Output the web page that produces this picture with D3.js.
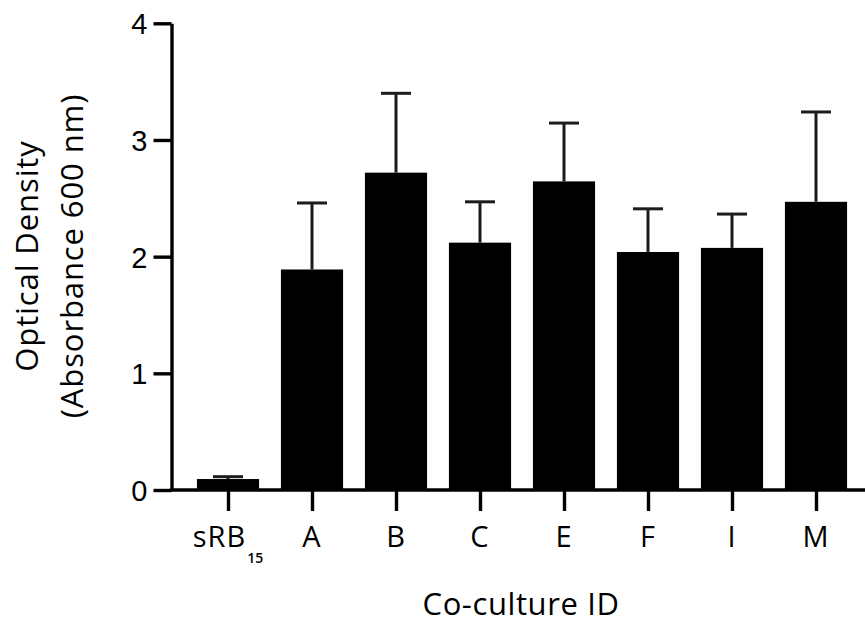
<!DOCTYPE html>
<html>
<head>
<meta charset="utf-8">
<script src="https://cdn.jsdelivr.net/npm/d3@7"></script>
<style>
  html, body { margin: 0; padding: 0; background: #fff; }
  svg { display: block; font-family: "Open Sans", "Noto Sans", sans-serif; }
</style>
</head>
<body>
<svg id="chart" width="865" height="623"></svg>
<script>
// Co-culture optical density (mean with SD error bars)
const categories = ["sRB15", "A", "B", "C", "E", "F", "I", "M"];
const meanOD = [0.094, 1.89, 2.72, 2.12, 2.645, 2.04, 2.075, 2.47];
const sdOD = [0.02, 0.57, 0.68, 0.35, 0.50, 0.37, 0.29, 0.77];
const yTicks = [0, 1, 2, 3, 4];

const svg = d3.select("#chart");
const W = 865;
const axisX = 171.5, baseY = 490, topY = 23.3;

const y = d3.scaleLinear().domain([0, 4]).range([baseY, topY]);
const x = d3.scalePoint().domain(categories).range([228, 816]);
const barW = x.step() * 0.74;
const capW = 30;

// Bars
svg.append("g").selectAll("rect")
  .data(categories)
  .join("rect")
  .attr("x", (d) => x(d) - barW / 2)
  .attr("y", (d, i) => y(meanOD[i]))
  .attr("width", barW)
  .attr("height", (d, i) => baseY - y(meanOD[i]))
  .attr("fill", "#000");

// Error bars (upper only)
const err = svg.append("g").attr("stroke", "#1c1c1c").attr("stroke-width", 3);
categories.forEach((c, i) => {
  const cx = x(c);
  const yt = y(meanOD[i] + sdOD[i]);
  err.append("line").attr("x1", cx).attr("x2", cx).attr("y1", y(meanOD[i])).attr("y2", yt);
  err.append("line").attr("x1", cx - capW / 2).attr("x2", cx + capW / 2).attr("y1", yt).attr("y2", yt);
});

// Y axis
const yAxis = svg.append("g")
  .attr("transform", `translate(${axisX},0)`)
  .call(d3.axisLeft(y).tickValues(yTicks).tickSize(18).tickSizeOuter(0).tickPadding(5).tickFormat(d3.format("d")));
yAxis.select(".domain").attr("stroke", "#000").attr("stroke-width", 3.4);
yAxis.selectAll(".tick line").attr("stroke", "#000").attr("stroke-width", 3.4);
yAxis.selectAll(".tick text").attr("fill", "#000")
  .style("font-size", "29px").style("letter-spacing", "1px").attr("dy", "0.36em");

// X axis
const xAxis = svg.append("g")
  .attr("transform", `translate(0,${baseY})`)
  .call(d3.axisBottom(x).tickSize(21).tickSizeOuter(0).tickFormat(""));
xAxis.select(".domain").remove();
xAxis.append("line")
  .attr("x1", axisX - 1.7).attr("x2", W).attr("y1", 0).attr("y2", 0)
  .attr("stroke", "#000").attr("stroke-width", 3.4);
xAxis.selectAll(".tick line").attr("stroke", "#000").attr("stroke-width", 3.4);

// X tick labels (sRB15 with subscript)
const labels = svg.append("g").attr("font-size", 29).attr("fill", "#000")
  .style("letter-spacing", "1px");
categories.forEach((c) => {
  const t = labels.append("text")
    .attr("x", x(c)).attr("y", 547)
    .attr("text-anchor", "middle");
  if (c === "sRB15") {
    t.append("tspan").text("sRB");
    t.append("tspan").attr("dy", 16).attr("dx", 1).attr("font-size", 14)
      .attr("font-weight", 600).style("letter-spacing", "0px").text("15");
  } else {
    t.text(c);
  }
});

// Axis titles
svg.append("text")
  .attr("x", 521).attr("y", 615)
  .attr("text-anchor", "middle")
  .attr("font-size", 31)
  .style("letter-spacing", "0.6px")
  .attr("fill", "#000")
  .text("Co-culture ID");

const yTitle = svg.append("text")
  .attr("transform", "translate(0,256) rotate(-90)")
  .attr("text-anchor", "middle")
  .attr("font-size", 31)
  .style("letter-spacing", "0.9px")
  .attr("fill", "#000");
yTitle.append("tspan").attr("x", 0).attr("y", 38).text("Optical Density");
yTitle.append("tspan").attr("x", 0).attr("y", 83).text("(Absorbance 600 nm)");
</script>
</body>
</html>
